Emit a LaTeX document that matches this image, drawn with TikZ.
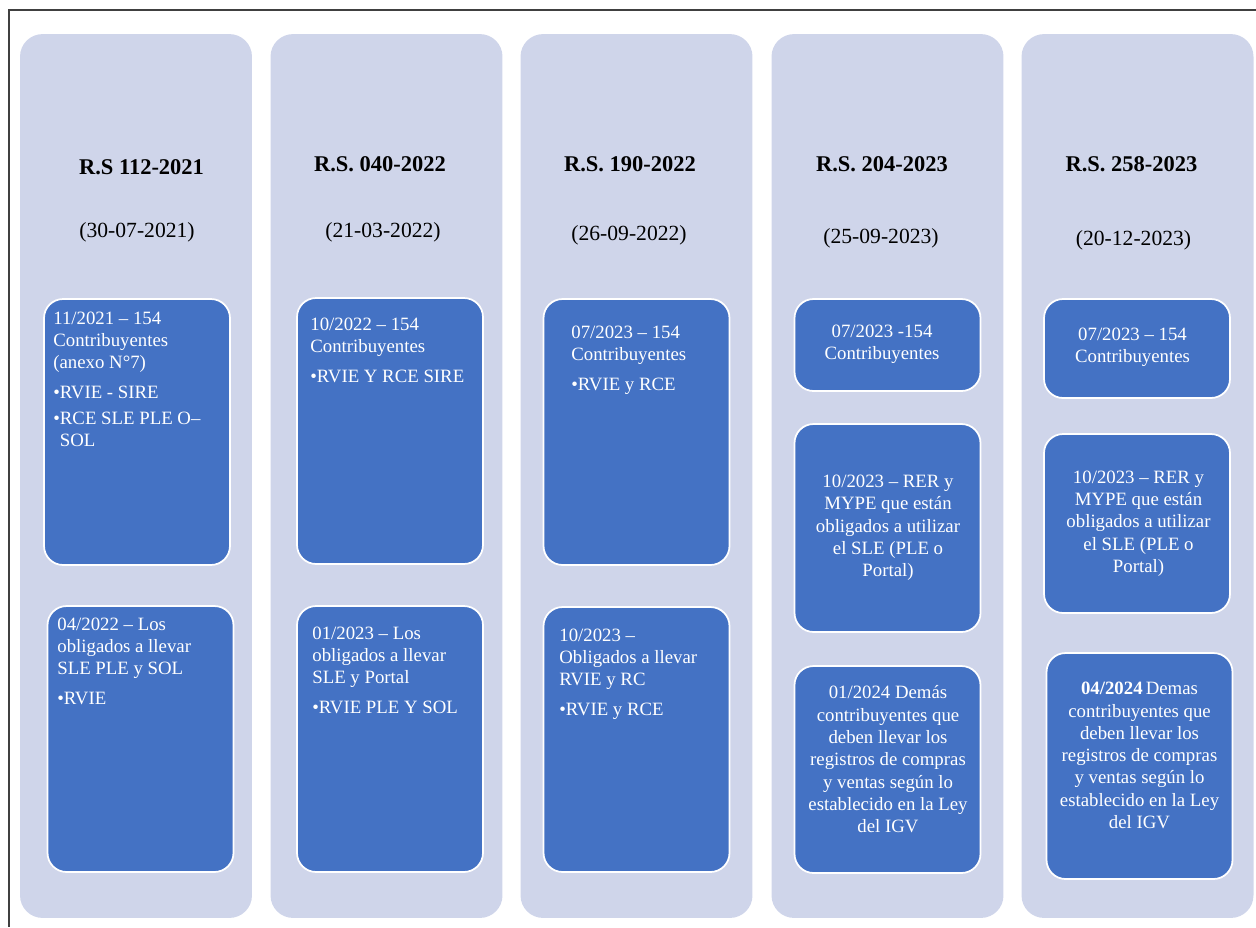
\documentclass[tikz,border=0pt]{standalone}
\usepackage{fontspec}
\setmainfont{Liberation Serif}
\definecolor{lanegray}{HTML}{CFD5EA}
\definecolor{cardblue}{HTML}{4472C4}
\begin{document}
\begin{tikzpicture}
			[x=0.02cm,y=-0.02cm,inner sep=0pt,
			lane/.style={rectangle,rounded corners=0.45cm,fill=lanegray,minimum width=4.64cm,minimum height=17.68cm},
			card/.style={rectangle,rounded corners=0.38cm,fill=cardblue,draw=white,line width=1pt,minimum width=3.72cm},
			rstitle/.style={font=\fontsize{12.8}{15}\selectfont\bfseries},
			rsdate/.style={font=\fontsize{12.3}{15}\selectfont},
			cardtext/.style={text=white,align=left,anchor=north west,font=\fontsize{10.7}{12.7}\selectfont},
			cardmid/.style={cardtext,align=center,anchor=center}]
			\useasboundingbox (0,0) rectangle (1256,927);
			\draw[line width=0.7pt,black!75] (1256,10) -| (9,927);
			\path node (lane1) at (136,476)    [lane] {}
				  node (lane2) at (386.5,476)  [lane] {}
				  node (lane3) at (636.5,476)  [lane] {}
				  node (lane4) at (887.5,476)  [lane] {}
				  node (lane5) at (1137.5,476) [lane] {};
			\path node (rs1) at (141.5,167)  [rstitle] {R.S 112-2021}
				  node (rs2) at (380,164)    [rstitle] {R.S. 040-2022}
				  node (rs3) at (630,164)    [rstitle] {R.S. 190-2022}
				  node (rs4) at (882,164)    [rstitle] {R.S. 204-2023}
				  node (rs5) at (1131.5,164) [rstitle] {R.S. 258-2023}
				  node (day1) at (137,232)    [rsdate] {(30-07-2021)}
				  node (day2) at (383,232)    [rsdate] {(21-03-2022)}
				  node (day3) at (629,235)    [rsdate] {(26-09-2022)}
				  node (day4) at (881,238)    [rsdate] {(25-09-2023)}
				  node (day5) at (1133.5,240) [rsdate] {(20-12-2023)};
			\path node (card1a) at (137,432)    [card,minimum height=5.32cm] {}
				  node (card1b) at (140.5,739)  [card,minimum height=5.32cm] {}
				  node (card2a) at (390,431)    [card,minimum height=5.32cm] {}
				  node (card2b) at (390,739)    [card,minimum height=5.32cm] {}
				  node (card3a) at (636.5,432)  [card,minimum height=5.32cm] {}
				  node (card3b) at (636.5,739.5)[card,minimum height=5.30cm] {}
				  node (card4a) at (887.5,345)  [card,minimum height=1.84cm] {}
				  node (card4b) at (887.5,528)  [card,minimum height=4.16cm] {}
				  node (card4c) at (887.5,769.5)[card,minimum height=4.14cm] {}
				  node (card5a) at (1137,348.5) [card,minimum height=1.98cm] {}
				  node (card5b) at (1137,523.5) [card,minimum height=3.58cm] {}
				  node (card5c) at (1139.5,766) [card,minimum height=4.52cm] {};
			% texts of the cards
			\path node (text1a) at (53,311.5)  [cardtext] {11/2021 – 154\\Contribuyentes\\(anexo N°7)\\[4pt]•RVIE - SIRE\\[2pt]•RCE SLE PLE O–\\\phantom{•}SOL}
				  node (text1b) at (57,617.5)  [cardtext] {04/2022 – Los\\obligados a llevar\\SLE PLE y SOL\\[4pt]•RVIE}
				  node (text2a) at (310,317.5) [cardtext] {10/2022 – 154\\Contribuyentes\\[4pt]•RVIE Y RCE SIRE}
				  node (text2b) at (312,626.5) [cardtext] {01/2023 – Los\\obligados a llevar\\SLE y Portal\\[4pt]•RVIE PLE Y SOL}
				  node (text3a) at (571,325.5) [cardtext] {07/2023 – 154\\Contribuyentes\\[4pt]•RVIE y RCE}
				  node (text3b) at (559,628.5) [cardtext] {10/2023 –\\Obligados a llevar\\RVIE y RC\\[4pt]•RVIE y RCE}
				  node (text4a) at (882,344.5)  [cardmid] {07/2023 -154\\Contribuyentes}
				  node (text4b) at (888,528)    [cardmid] {10/2023 – RER y\\MYPE que están\\obligados a utilizar\\el SLE (PLE o\\Portal)}
				  node (text4c) at (888,759.5)  [cardmid] {01/2024 Demás\\contribuyentes que\\deben llevar los\\registros de compras\\y ventas según lo\\establecido en la Ley\\del IGV}
				  node (text5a) at (1132.5,347) [cardmid] {07/2023 – 154\\Contribuyentes}
				  node (text5b) at (1138.5,523.5) [cardmid] {10/2023 – RER y\\MYPE que están\\obligados a utilizar\\el SLE (PLE o\\Portal)}
				  node (text5c) at (1139.5,755.5) [cardmid] {\textbf{04/2024}\,Demas\\contribuyentes que\\deben llevar los\\registros de compras\\y ventas según lo\\establecido en la Ley\\del IGV};
		\end{tikzpicture}
\end{document}
